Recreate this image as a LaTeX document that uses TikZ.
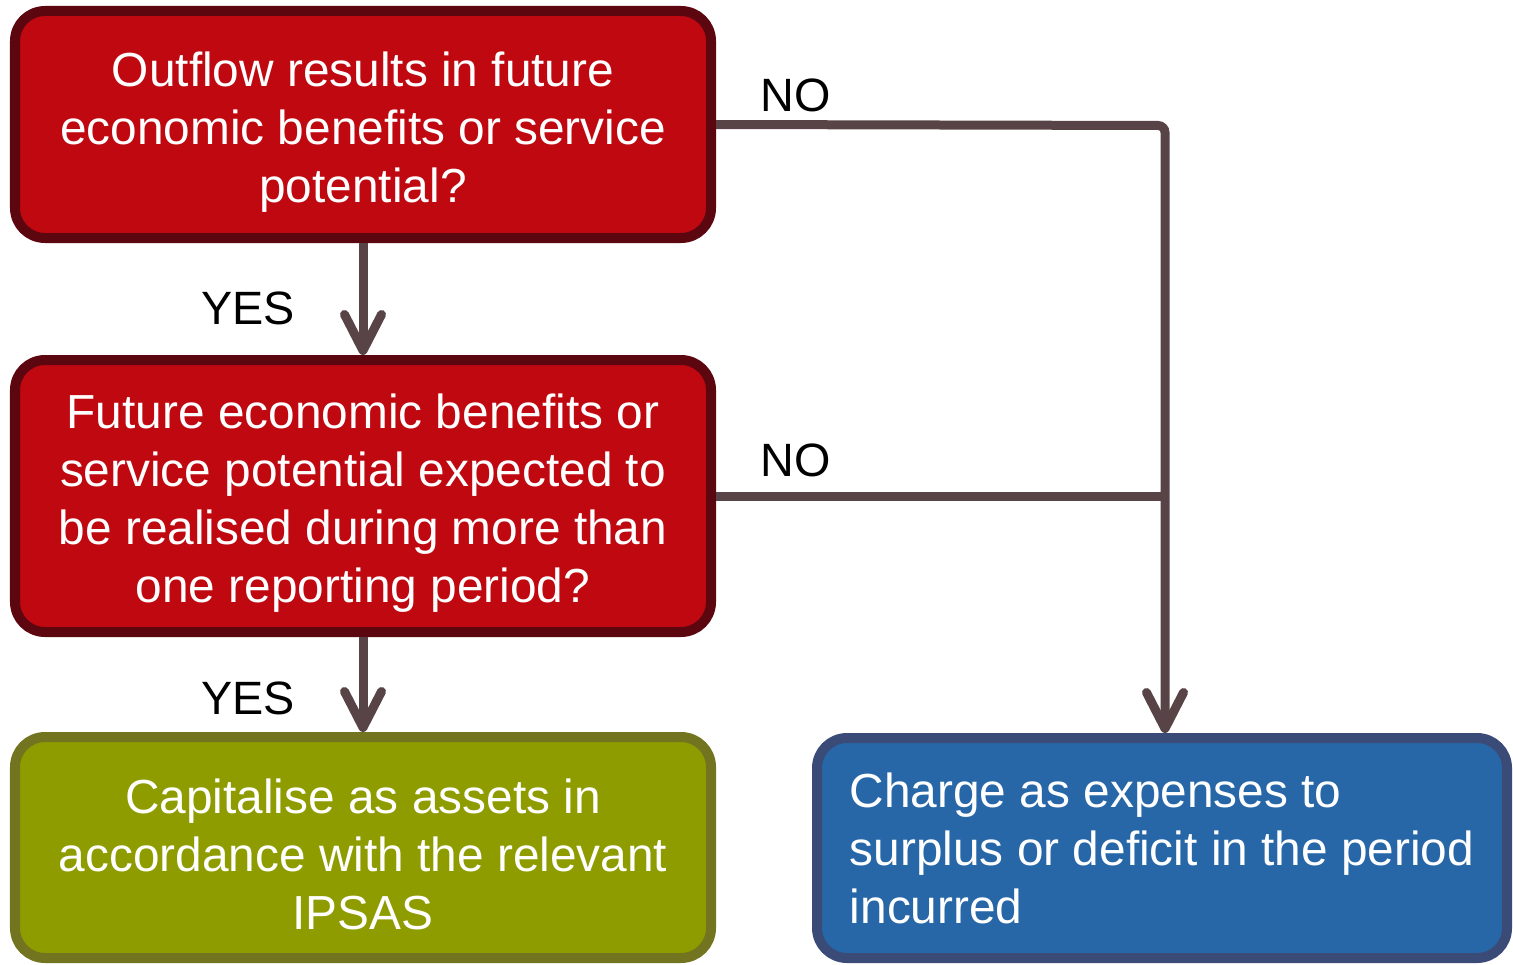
\documentclass[tikz,border=0pt]{standalone}
\usepackage{fontspec}
\setmainfont{Liberation Sans}
\usepackage{xcolor}
\usepackage{tikz}
\usetikzlibrary{positioning,arrows.meta}

\definecolor{qfill}{HTML}{BF0810}
\definecolor{qdraw}{HTML}{5C0610}
\definecolor{afill}{HTML}{8E9C00}
\definecolor{adraw}{HTML}{737420}
\definecolor{efill}{HTML}{2767A8}
\definecolor{edraw}{HTML}{3A4B78}
\definecolor{flow}{HTML}{584446}
\newcommand{\topgap}{\rule{0pt}{14pt}}

\begin{document}
\begin{tikzpicture}[
    box/.style={rectangle, rounded corners=0.3cm, line width=0.1cm, minimum width=6.96cm, align=center, text=white, inner sep=0pt, font=\fontsize{13.6}{16.5}\selectfont},
    question/.style={box, fill=qfill, draw=qdraw},
    label/.style={font=\fontsize{13.3}{16}\selectfont},
    arrow/.style={-{Straight Barb[length=3.6mm, width=3.7mm, round]}, line width=0.09cm, flow}
]
\useasboundingbox (0,0) rectangle (15.13,-9.64);

% Questions
\node[question, minimum height=2.27cm] (q1) at (3.63,-1.245) {\topgap Outflow results in future\\economic benefits or service\\potential?};
\node[question, minimum height=2.72cm] (q2) at (3.63,-4.96) {\topgap Future economic benefits or\\service potential expected to\\be realised during more than\\one reporting period?};

% Outcomes
\node[box, fill=afill, draw=adraw, minimum height=2.21cm] (asset) at (3.63,-8.475) {\topgap Capitalise as assets in\\accordance with the relevant\\IPSAS};
\node[box, fill=efill, draw=edraw, minimum width=6.9cm, minimum height=2.2cm, align=left] (expense) at (11.62,-8.48) {Charge as expenses to\\surplus or deficit in the period\\incurred};

% Arrows
\coordinate (turn) at (11.65,-1.255);
\draw[arrow] (q1.south) -- (q2.north);
\draw[arrow] (q2.south) -- (asset.north);
\draw[arrow, rounded corners=2pt] (q1.east) -- (turn) -- (turn |- expense.north);
\draw[line width=0.09cm, flow] (q2.east) -- (q2.east -| turn);

% Labels
\node[label] (no1) at (7.96,-0.95) {NO};
\node[label] (no2) at (7.96,-4.60) {NO};
\node[label] (yes1) at (2.48,-3.08) {YES};
\node[label] (yes2) at (2.48,-6.98) {YES};

\end{tikzpicture}
\end{document}
